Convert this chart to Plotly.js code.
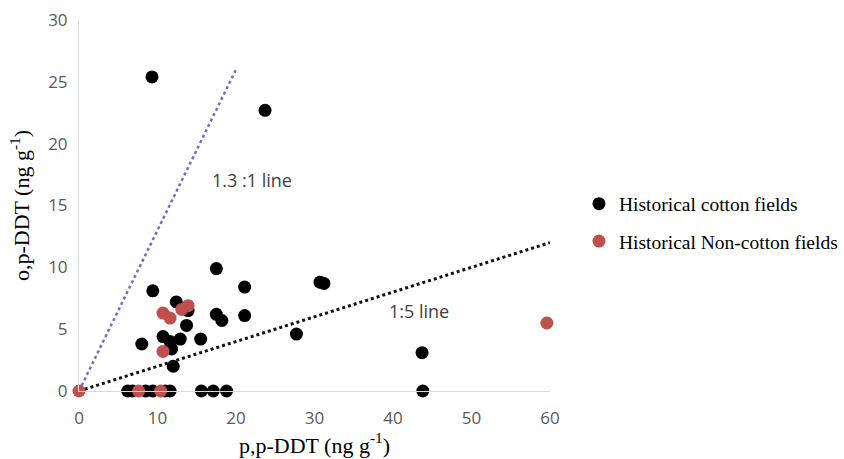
<!DOCTYPE html>
<html>
<head>
<meta charset="utf-8">
<script src="https://cdn.plot.ly/plotly-3.0.1.min.js"></script>
<style>html,body{margin:0;padding:0;background:#fff;}#chart{width:844px;height:459px;}</style>
</head>
<body>
<div id="chart"></div>
<script>
// Historical cotton fields (p,p-DDT, o,p-DDT)
var cottonX = [9.3, 23.7, 17.5, 9.4, 21.1, 12.4, 13.9, 17.5, 18.2, 21.1, 13.7, 27.7, 8.0, 10.7, 11.6, 12.9, 15.5, 11.8, 12.0, 30.7, 31.2, 43.7, 43.8, 6.2, 6.8, 8.5, 9.4, 11.0, 11.6, 15.6, 17.1, 18.8];
var cottonY = [25.4, 22.7, 9.9, 8.1, 8.4, 7.2, 6.5, 6.2, 5.7, 6.1, 5.3, 4.6, 3.8, 4.4, 4.0, 4.2, 4.2, 3.4, 2.0, 8.8, 8.7, 3.1, 0, 0, 0, 0, 0, 0, 0, 0, 0, 0];
// Historical Non-cotton fields
var nonCottonX = [0, 10.7, 11.6, 13.1, 13.9, 10.7, 7.6, 10.4, 59.6];
var nonCottonY = [0, 6.3, 5.9, 6.6, 6.9, 3.2, 0, 0, 5.5];
// Reference ratio lines
var line13X = [0, 20];
var line13Y = [0, 26];
var line15X = [0, 60];
var line15Y = [0, 12];
var seriesNames = ["Historical cotton fields", "Historical Non-cotton fields"];
var lineLabels = ["1.3 :1 line", "1:5 line"];
var xTicks = [0, 10, 20, 30, 40, 50, 60];
var yTicks = [0, 5, 10, 15, 20, 25, 30];
var xTitle = "p,p-DDT (ng g<sup>-1</sup>)";
var yTitle = "o,p-DDT (ng g<sup>-1</sup>)";

var traces = [
  {x: line13X, y: line13Y, mode: "lines", line: {color: "#7a66c8", dash: "dot", width: 2.5}, showlegend: false, hoverinfo: "skip"},
  {x: line15X, y: line15Y, mode: "lines", line: {color: "#111111", dash: "dot", width: 3}, showlegend: false, hoverinfo: "skip"},
  {x: cottonX, y: cottonY, mode: "markers", name: seriesNames[0], legendgroup: "a",
   marker: {color: "#000000", size: 13}, cliponaxis: false},
  {x: nonCottonX, y: nonCottonY, mode: "markers", name: seriesNames[1], legendgroup: "b",
   marker: {color: "#c0504d", size: 13}, cliponaxis: false}
];

var serif = "Liberation Serif, Times New Roman, serif";
var axisFont = {family: "Open Sans, sans-serif", size: 17, color: "#595959"};
var layout = {
  width: 844, height: 459,
  margin: {l: 79, r: 294, t: 20, b: 68, autoexpand: false},
  paper_bgcolor: "#ffffff", plot_bgcolor: "#ffffff",
  showlegend: true,
  legend: {xref: "container", yref: "container", x: 0.686, y: 0.598, xanchor: "left", yanchor: "top",
    font: {family: serif, size: 19.5, color: "#000000"},
    tracegroupgap: 9, itemwidth: 30, bgcolor: "rgba(0,0,0,0)"},
  xaxis: {range: [0, 60], tickvals: xTicks, ticktext: xTicks.map(String), showgrid: false, zeroline: false,
    showline: true, linecolor: "#d9d9d9", linewidth: 1, ticks: "", tickfont: axisFont, ticklabelstandoff: 12,
    title: {text: xTitle, font: {family: serif, size: 22, color: "#000"}, standoff: 0}},
  yaxis: {range: [0, 30], tickvals: yTicks, ticktext: yTicks.map(String), showgrid: false, zeroline: false,
    showline: true, linecolor: "#d9d9d9", linewidth: 1, ticks: "", tickfont: axisFont, ticklabelstandoff: 7,
    title: {text: yTitle, font: {family: serif, size: 22, color: "#000"}, standoff: 12}},
  annotations: [
    {x: 22.0, y: 17.1, xref: "x", yref: "y", text: lineLabels[0], showarrow: false,
     font: {family: "Open Sans, sans-serif", size: 18, color: "#404040"}},
    {x: 43.3, y: 6.5, xref: "x", yref: "y", text: lineLabels[1], showarrow: false,
     font: {family: "Open Sans, sans-serif", size: 18, color: "#404040"}}
  ]
};
Plotly.newPlot("chart", traces, layout, {displayModeBar: false, staticPlot: true});
</script>
</body>
</html>
